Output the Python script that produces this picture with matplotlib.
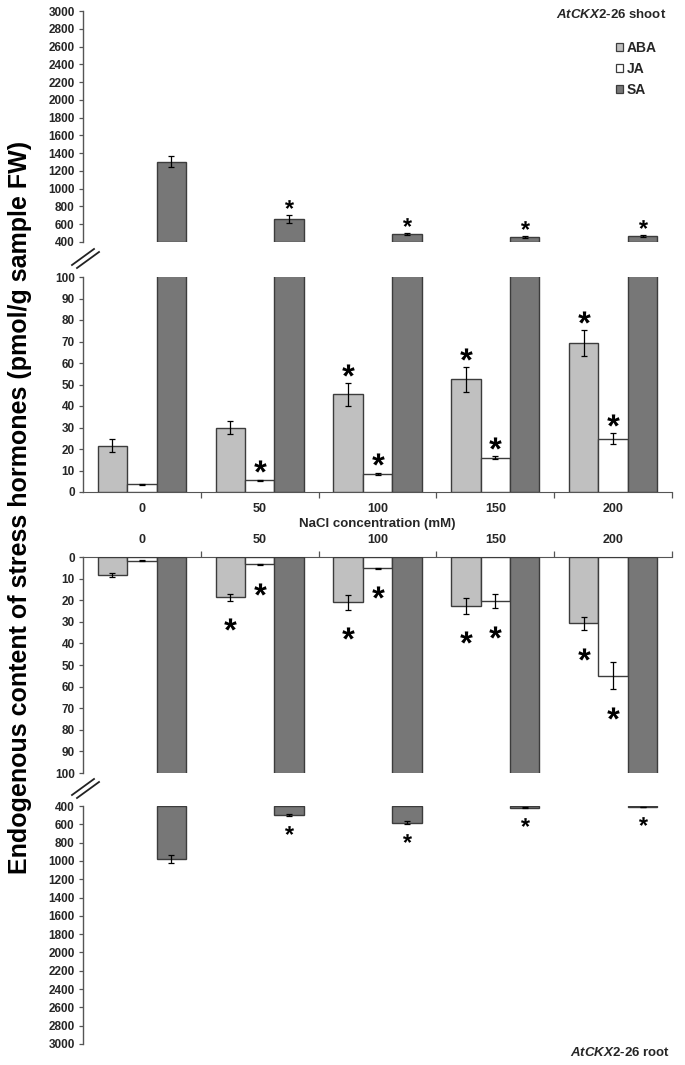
import numpy as np
import matplotlib
matplotlib.use("Agg")
import matplotlib.pyplot as plt
from matplotlib.patches import Patch
from matplotlib.lines import Line2D
from matplotlib.path import Path
from matplotlib.textpath import TextPath
from matplotlib.font_manager import FontProperties
import matplotlib.transforms as mtransforms

# ---------------- data ----------------
categories = ['0', '50', '100', '150', '200']

shoot_aba = [21.5, 30.0, 45.4, 52.4, 69.2]
shoot_aba_err = [3.0, 2.8, 5.4, 5.7, 6.0]
shoot_ja = [3.6, 5.4, 8.5, 16.0, 24.8]
shoot_ja_err = [0.3, 0.4, 0.5, 0.8, 2.5]
shoot_sa = [1304, 659, 490, 453, 471]
shoot_sa_err = [64, 40, 10, 10, 12]

root_aba = [8.3, 18.7, 21.0, 22.7, 30.7]
root_aba_err = [1.0, 1.5, 3.4, 3.5, 3.1]
root_ja = [1.7, 3.4, 5.2, 20.4, 54.9]
root_ja_err = [0.2, 0.3, 0.3, 3.4, 6.3]
root_sa = [982, 495, 582, 420, 410]
root_sa_err = [44, 12, 15, 5, 3]

shoot_aba_sig = [False, False, True, True, True]
shoot_ja_sig = [False, True, True, True, True]
shoot_sa_sig = [False, True, True, True, True]
root_aba_sig = [False, True, True, True, True]
root_ja_sig = [False, True, True, True, True]
root_sa_sig = [False, True, True, True, True]

series_names = ['ABA', 'JA', 'SA']
series_colors = ['#c0c0c0', '#ffffff', '#777777']
edge_color = '#3c3c3c'
text_color = '#262626'
break_value = 400

# ---------------- style ----------------
plt.rcParams['font.family'] = ['Liberation Sans', 'DejaVu Sans']
plt.rcParams['font.weight'] = 'bold'
plt.rcParams['mathtext.fontset'] = 'custom'
plt.rcParams['mathtext.it'] = 'Liberation Sans:italic:bold'
plt.rcParams['mathtext.rm'] = 'Liberation Sans:bold'
plt.rcParams['mathtext.bf'] = 'Liberation Sans:bold'

W, H = 685, 1065
fig = plt.figure(figsize=(W / 100, H / 100), dpi=100)


def axes_px(x0, y0, x1, y1):
    return fig.add_axes([x0 / W, 1 - y1 / H, (x1 - x0) / W, (y1 - y0) / H])


ax1 = axes_px(83, 11, 672, 242)    # shoot SA, broken upper part
ax2 = axes_px(83, 277, 672, 492)   # shoot 0-100
ax3 = axes_px(83, 557, 672, 773)   # root 0-100 (inverted)
ax4 = axes_px(83, 806, 672, 1044)  # root SA broken part (inverted)

x = np.arange(len(categories))
bw = 0.25
offs = [-bw, 0.0, bw]

# star marker from glyph, centred on its outline
tp = TextPath((0, 0), '*', prop=FontProperties(family='Liberation Sans', weight='bold'), size=1)
codes = tp.codes
v = tp.vertices.copy()
real = codes != Path.CLOSEPOLY
c = (v[real].min(0) + v[real].max(0)) / 2
v = v - c
v[~real] = 0.0
star = Path(v, codes)


def stars(ax, xs, ys, flags, dy_pt, ms):
    tr = mtransforms.offset_copy(ax.transData, fig=fig, x=0, y=dy_pt, units='points')
    for xi, yi, f in zip(xs, ys, flags):
        if f:
            ax.plot([xi], [yi], marker=star, ms=ms, mew=0, color='black', ls='none',
                    transform=tr, clip_on=False, zorder=5)


ekw = dict(ecolor='black', elinewidth=0.9, capsize=2, capthick=0.9, fmt='none', zorder=4)

for ax in (ax1, ax2, ax3, ax4):
    ax.set_xlim(-0.5, len(categories) - 0.5)
    for s in ax.spines.values():
        s.set_visible(False)
    ax.spines['left'].set_visible(True)
    ax.spines['left'].set_color('#555555')
    ax.spines['left'].set_linewidth(1.0)
    ax.tick_params(axis='y', direction='out', length=3, width=0.9, color='#555555',
                   labelsize=8.5, labelcolor=text_color, pad=3)
    ax.patch.set_alpha(0)

# ---- shoot upper (broken) ----
ax1.bar(x + offs[2], np.array(shoot_sa) - break_value, bw, bottom=break_value,
        color=series_colors[2], edgecolor=edge_color, linewidth=1.0, zorder=3)
ax1.errorbar(x + offs[2], shoot_sa, yerr=shoot_sa_err, **ekw)
ax1.set_ylim(400, 3000)
ax1.set_yticks(np.arange(400, 3001, 200))
ax1.set_xticks([])
stars(ax1, x + offs[2], np.array(shoot_sa) + np.array(shoot_sa_err), shoot_sa_sig, 8.0, 6.5)

# ---- shoot lower 0-100 ----
vals = [shoot_aba, shoot_ja, shoot_sa]
errs = [shoot_aba_err, shoot_ja_err, None]
for i in range(3):
    ax2.bar(x + offs[i], vals[i], bw, color=series_colors[i], edgecolor=edge_color,
            linewidth=1.0, zorder=3)
    if errs[i] is not None:
        ax2.errorbar(x + offs[i], vals[i], yerr=errs[i], **ekw)
ax2.set_ylim(0, 100)
ax2.set_yticks(np.arange(0, 101, 10))
ax2.spines['bottom'].set_visible(True)
ax2.spines['bottom'].set_color('#555555')
ax2.set_xticks(np.arange(0.5, len(categories), 1.0))
ax2.set_xticklabels([])
ax2.set_xticks(x, minor=True)
ax2.set_xticklabels(categories, minor=True)
ax2.tick_params(axis='x', which='major', direction='out', length=4, width=0.9, color='#555555')
ax2.tick_params(axis='x', which='minor', length=0, pad=8, labelsize=9, labelcolor=text_color)
ax2.set_xlabel('NaCl concentration (mM)', fontsize=9.5, fontweight='bold', color=text_color,
               labelpad=2)
stars(ax2, x + offs[0], np.array(shoot_aba) + np.array(shoot_aba_err), shoot_aba_sig, 9.5, 9.0)
stars(ax2, x + offs[1], np.array(shoot_ja) + np.array(shoot_ja_err), shoot_ja_sig, 9.5, 9.0)

# ---- root upper 0-100 (inverted) ----
vals = [root_aba, root_ja, root_sa]
errs = [root_aba_err, root_ja_err, None]
for i in range(3):
    ax3.bar(x + offs[i], vals[i], bw, color=series_colors[i], edgecolor=edge_color,
            linewidth=1.0, zorder=3)
    if errs[i] is not None:
        ax3.errorbar(x + offs[i], vals[i], yerr=errs[i], **ekw)
ax3.set_ylim(100, 0)
ax3.set_yticks(np.arange(0, 101, 10))
ax3.spines['top'].set_visible(True)
ax3.spines['top'].set_color('#555555')
ax3.xaxis.tick_top()
ax3.set_xticks(np.arange(0.5, len(categories), 1.0))
ax3.set_xticklabels([])
ax3.set_xticks(x, minor=True)
ax3.set_xticklabels(categories, minor=True)
ax3.tick_params(axis='x', which='major', direction='out', length=4, width=0.9, color='#555555',
                top=True, bottom=False)
ax3.tick_params(axis='x', which='minor', length=0, pad=8, labelsize=9, labelcolor=text_color,
                top=True, bottom=False, labeltop=True, labelbottom=False)
stars(ax3, x + offs[0], np.array(root_aba) + np.array(root_aba_err), root_aba_sig, -17, 9.0)
stars(ax3, x + offs[1], np.array(root_ja) + np.array(root_ja_err), root_ja_sig, -17, 9.0)

# ---- root lower (broken, inverted) ----
ax4.bar(x + offs[2], np.array(root_sa) - break_value, bw, bottom=break_value,
        color=series_colors[2], edgecolor=edge_color, linewidth=1.0, zorder=3)
ax4.errorbar(x + offs[2], root_sa, yerr=root_sa_err, **ekw)
ax4.set_ylim(3000, 400)
ax4.set_yticks(np.arange(400, 3001, 200))
ax4.set_xticks([])
stars(ax4, x + offs[2], np.array(root_sa) + np.array(root_sa_err), root_sa_sig, -10, 6.5)

# ---- break marks ----
for yb in (257, 787):
    for dx in (0, 5):
        fig.add_artist(Line2D([(72 + dx) / W, (94 + dx) / W],
                              [1 - (yb + 8 + dx * 0.6) / H, 1 - (yb - 8 + dx * 0.6) / H],
                              color='#222222', lw=1.3))

# ---- texts ----
fig.text(666 / W, 1 - 15 / H, r'$\mathit{AtCKX2}$-26 shoot', ha='right', va='center',
         fontsize=9.5, fontweight='bold', color=text_color)
fig.text(670 / W, 1 - 1053 / H, r'$\mathit{AtCKX2}$-26 root', ha='right', va='center',
         fontsize=9.5, fontweight='bold', color=text_color)
fig.text(20 / W, 1 - 507 / H, 'Endogenous content of stress hormones (pmol/g sample FW)',
         rotation=90, ha='center', va='center', fontsize=18, fontweight='bold', color='black')

handles = [Patch(facecolor=series_colors[i], edgecolor=edge_color, linewidth=0.9)
           for i in range(3)]
fig.legend(handles, series_names, loc='upper left', bbox_to_anchor=(616 / W, 1 - 41 / H),
           frameon=False, handlelength=0.5, handleheight=0.5,
           handletextpad=0.25, labelspacing=0.5, borderaxespad=0, borderpad=0,
           labelcolor=text_color, prop={'weight': 'bold', 'size': 10})

fig.savefig('out.png', dpi=100)
